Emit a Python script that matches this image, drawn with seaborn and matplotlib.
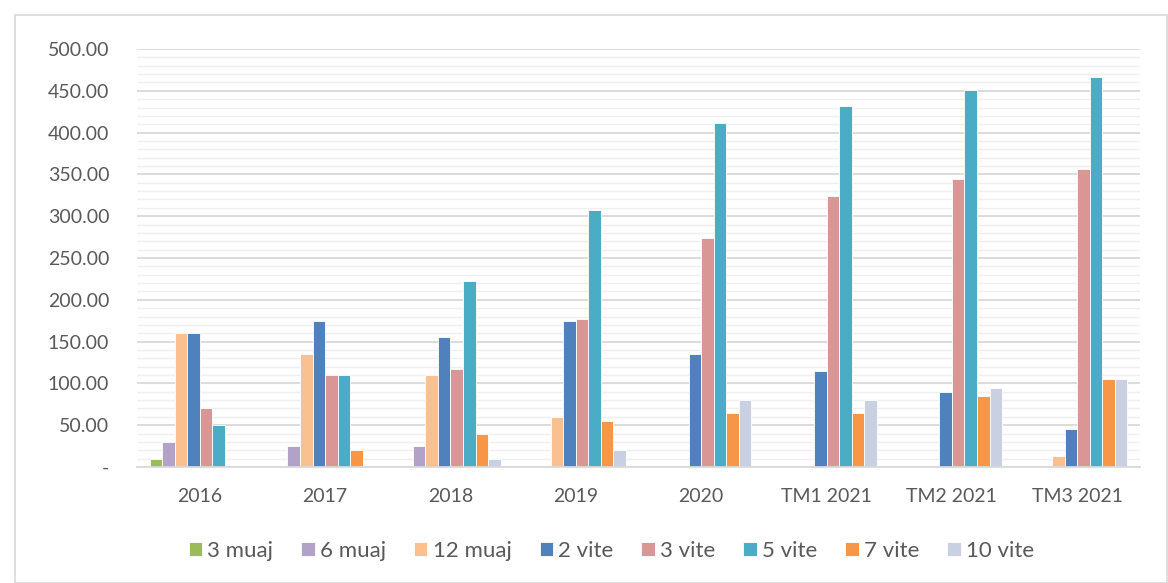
import pandas as pd
import seaborn as sns
import matplotlib.pyplot as plt
from matplotlib.ticker import MultipleLocator, FuncFormatter
from matplotlib.patches import Rectangle

# chart data
periods = ['2016', '2017', '2018', '2019', '2020', 'TM1 2021', 'TM2 2021', 'TM3 2021']
maturities = ['3 muaj', '6 muaj', '12 muaj', '2 vite', '3 vite', '5 vite', '7 vite', '10 vite']
m3 = [10, None, None, None, None, None, None, None]
m6 = [30, 25, 25, None, None, None, None, None]
m12 = [160, 135, 110, 60, None, None, None, 13]
y2 = [160, 175, 155, 175, 135, 115, 90, 45]
y3 = [70, 110, 117, 177, 274, 324, 344, 356]
y5 = [50, 110, 223, 308, 412, 432, 451, 466]
y7 = [None, 20, 40, 55, 65, 65, 85, 105]
y10 = [None, None, 10, 20, 80, 80, 95, 105]
colors = ['#9BBB59', '#B3A2C7', '#FAC090', '#4F81BD', '#D99694', '#4BACC6', '#F79646', '#C8D0E2']

rows = []
for name, vals in zip(maturities, [m3, m6, m12, y2, y3, y5, y7, y10]):
    for p, v in zip(periods, vals):
        if v is not None:
            rows.append({'period': p, 'maturity': name, 'value': v})
df = pd.DataFrame(rows)

sns.set_style('white')
plt.rcParams['font.family'] = ['Lato', 'DejaVu Sans']

fig = plt.figure(figsize=(11.68, 5.83), dpi=100)
ax = fig.add_axes([137 / 1168, 1 - 467 / 583, (1140 - 137) / 1168, (467 - 49) / 583])

sns.barplot(data=df, x='period', y='value', hue='maturity', order=periods,
            hue_order=maturities, palette=colors, width=0.8, ax=ax,
            edgecolor='white', linewidth=0.6, saturation=1)

ax.set_ylim(0, 500)
ax.set_xlim(-0.5, len(periods) - 0.5)
ax.yaxis.set_major_locator(MultipleLocator(50))
ax.yaxis.set_minor_locator(MultipleLocator(10))
ax.yaxis.set_major_formatter(FuncFormatter(lambda v, p: '-' if v == 0 else f'{v:.2f}'))
ax.grid(which='major', axis='y', color='#D9D9D9', linewidth=1.3, zorder=0)
ax.grid(which='minor', axis='y', color='#EFEFEF', linewidth=1.0, zorder=0)
ax.set_axisbelow(True)
for s in ['top', 'right', 'left']:
    ax.spines[s].set_visible(False)
ax.spines['bottom'].set_color('#D9D9D9')
ax.spines['bottom'].set_linewidth(1.3)
ax.tick_params(axis='y', which='both', length=0, pad=20, labelsize=14, labelcolor='#595959')
ax.tick_params(axis='x', length=0, pad=15, labelsize=14, labelcolor='#595959')
ax.set_xlabel('')
ax.set_ylabel('')

ax.legend(loc='center', bbox_to_anchor=(0.473, (467 - 551) / 418), ncol=8, frameon=False,
          fontsize=16, labelcolor='#595959', handlelength=0.6, handleheight=0.6,
          handletextpad=0.25, columnspacing=1.25)

fig.patches.append(Rectangle((15 / 1168, 0), 1 - 15 / 1168 - 0.001, 1 - 15 / 583,
                             transform=fig.transFigure, fill=False,
                             edgecolor='#D9D9D9', linewidth=1.2))

fig.savefig('out.png', dpi=100)
